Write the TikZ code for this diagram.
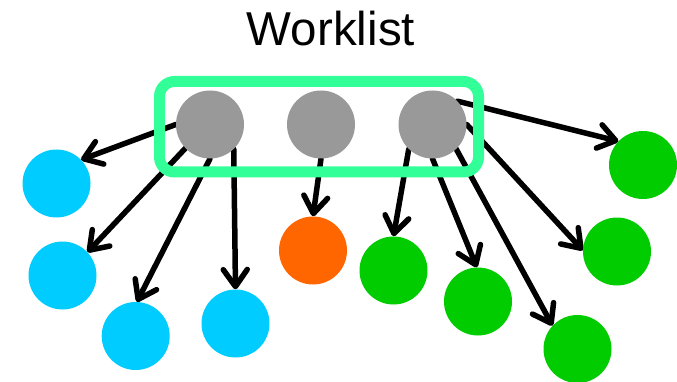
\documentclass[tikz,border=0pt]{standalone}
\usepackage{fontspec}
\setmainfont{Liberation Sans}
\usetikzlibrary{arrows.meta}
\pgfdeclarelayer{back}
\pgfsetlayers{back,main}
\definecolor{wlgreen}{HTML}{33FF99}
\definecolor{itemgray}{HTML}{999999}
\definecolor{bluedot}{HTML}{00CCFF}
\definecolor{orangedot}{HTML}{FF6600}
\definecolor{greendot}{HTML}{00CC00}

\begin{document}
\begin{tikzpicture}[x=1pt,y=-1pt,
  dot/.style={circle,inner sep=0pt,minimum size=68pt,fill=#1},
  edge/.style={line width=5.5pt,line cap=round,
    -{Straight Barb[length=17pt,width=24pt,line cap=round,line join=round]}},
  listbox/.style={draw=wlgreen,line width=11pt,rounded corners=15pt,
    minimum width=319pt,minimum height=90.5pt,inner sep=0pt}
]
\useasboundingbox (0,0) rectangle (677,382);

% title
\node[font=\fontsize{47.5}{50}\selectfont,anchor=base] (title) at (331,46) {Worklist};

% items in the worklist
\node[dot=itemgray] (g1) at (210,124.5) {};
\node[dot=itemgray] (g2) at (321,124.5) {};
\node[dot=itemgray] (g3) at (432.5,124.5) {};

% successors of the first item
\node[dot=bluedot] (b1) at (56.5,183.5) {};
\node[dot=bluedot] (b2) at (62.5,275.5) {};
\node[dot=bluedot] (b3) at (135.7,336) {};
\node[dot=bluedot] (b4) at (235.5,323.5) {};

% successor of the second item
\node[dot=orangedot] (o1) at (313,250.5) {};

% successors of the third item
\node[dot=greendot] (n1) at (643,165) {};
\node[dot=greendot] (n2) at (617,251.5) {};
\node[dot=greendot] (n3) at (393.5,270.5) {};
\node[dot=greendot] (n4) at (478,301.5) {};
\node[dot=greendot] (n5) at (577.5,349) {};

% edges
\begin{pgfonlayer}{back}
\draw[edge] (g1.180) -- (b1.44);
\draw[edge] (g1.224) -- (b2.43);
\draw[edge] (g1.270) -- (b3.88);
\draw[edge] (g1.314) -- (b4.90);
\draw[edge] (g2.270) -- (o1.90);
\draw[edge] (g3.43) -- (n1.136);
\draw[edge] (g3.0) -- (n2.178);
\draw[edge] (g3.314) -- (n5.137);
\draw[edge] (g3.270) -- (n4.92);
\draw[edge] (g3.226) -- (n3.90);
\end{pgfonlayer}

% worklist frame
\node[listbox] (wl) at (319,126.75) {};
\end{tikzpicture}
\end{document}
